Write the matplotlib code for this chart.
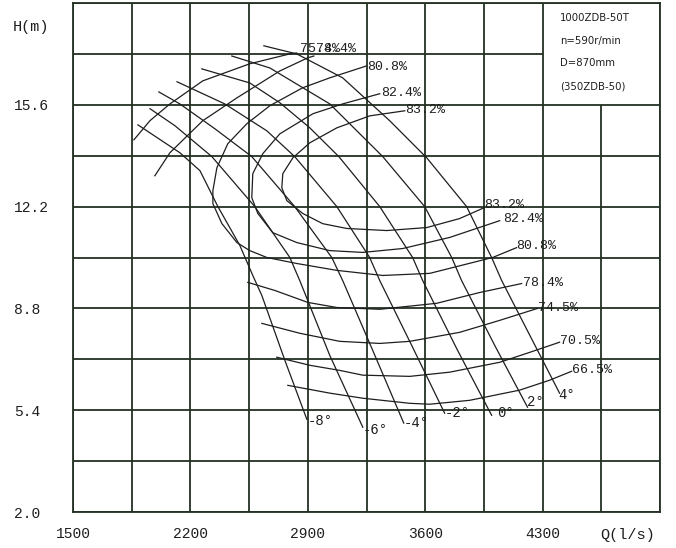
import matplotlib
matplotlib.use('Agg')
import matplotlib.pyplot as plt
import numpy as np

MONO = 'Liberation Mono'
INK = '#1e1e1e'
GRID = '#233023'

# ---------------- data (Q in l/s, H in m) ----------------
# blade-angle H-Q curves
angle_labels = ['-8°', '-6°', '-4°', '-2°', '0°', '2°', '4°']
q_m8 = [1887, 2137, 2257, 2364, 2495, 2572, 2626, 2763, 2894]
h_m8 = [14.93, 14.0, 13.4, 12.2, 10.9, 9.9, 9.23, 7.07, 5.1]
q_m6 = [1959, 2108, 2328, 2584, 2793, 2852, 3031, 3228]
h_m6 = [15.47, 14.9, 13.87, 12.2, 10.5, 9.73, 7.23, 4.83]
q_m4 = [2012, 2137, 2346, 2566, 2822, 3043, 3108, 3287, 3472]
h_m4 = [16.03, 15.63, 14.8, 13.87, 12.2, 10.5, 9.73, 7.4, 4.97]
q_m2 = [2120, 2274, 2405, 2656, 2822, 3073, 3269, 3329, 3519, 3716]
h_m2 = [16.37, 15.97, 15.63, 14.73, 13.87, 12.2, 10.5, 9.73, 7.57, 5.3]
q_0 = [2268, 2554, 2733, 2912, 3085, 3329, 3525, 3585, 3793, 3996]
h_0 = [16.8, 16.33, 15.67, 14.83, 13.87, 12.2, 10.5, 9.73, 7.4, 5.23]
q_p2 = [2447, 2674, 3031, 3347, 3597, 3758, 3817, 4014, 4210]
h_p2 = [17.23, 16.83, 15.63, 13.87, 12.2, 10.5, 9.73, 7.57, 5.5]
q_p4 = [2638, 2834, 3108, 3388, 3609, 3847, 3996, 4056, 4300, 4401]
h_p4 = [17.57, 17.3, 16.5, 15.07, 13.83, 12.2, 10.5, 9.73, 7.07, 5.97]

# iso-efficiency curves
eff_upper_labels = ['75.4%', '78.4%', '80.8%', '82.4%', '83.2%']
q_e754u = [1863, 1959, 2078, 2274, 2554, 2793, 2834]
h_e754u = [14.43, 15.07, 15.63, 16.4, 16.97, 17.3, 17.33]
q_e784u = [1988, 2078, 2274, 2477, 2733, 2900, 2936]
h_e784u = [13.23, 14.0, 15.07, 15.83, 16.73, 17.17, 17.23]

# closed-left loops (upper end -> around -> lower end)
q_e808 = [3251, 3031, 2870, 2674, 2537, 2423, 2358, 2334, 2334, 2388, 2477,
          2554, 2656, 2834, 3073, 3347, 3627, 4002, 4145]
h_e808 = [16.9, 16.5, 16.17, 15.57, 14.97, 14.3, 13.5, 12.73, 12.3, 11.63, 11.0,
          10.73, 10.5, 10.3, 10.07, 9.9, 9.97, 10.5, 10.83]
q_e824 = [3329, 3108, 2930, 2733, 2632, 2572, 2566, 2602, 2691, 2834, 3031,
          3228, 3466, 3746, 4044]
h_e824 = [15.97, 15.63, 15.3, 14.63, 13.97, 13.3, 12.5, 11.97, 11.33, 11.0, 10.73,
          10.67, 10.8, 11.17, 11.73]
q_e832 = [3478, 3269, 3073, 2912, 2811, 2751, 2745, 2775, 2870, 2989, 3132,
          3370, 3609, 3805, 3954]
h_e832 = [15.4, 15.23, 14.83, 14.33, 13.83, 13.3, 12.83, 12.4, 11.97, 11.63, 11.47,
          11.4, 11.5, 11.8, 12.17]

# lower (open) branches
q_e784l = [2542, 2703, 2900, 3073, 3329, 3668, 3924, 4175]
h_e784l = [9.67, 9.4, 9.0, 8.83, 8.77, 8.97, 9.33, 9.63]
q_e745l = [2626, 2852, 3090, 3329, 3508, 3805, 4044, 4270]
h_e745l = [8.3, 7.97, 7.7, 7.63, 7.7, 8.0, 8.4, 8.8]
q_e705l = [2715, 2912, 3090, 3228, 3508, 3746, 4044, 4222, 4401]
h_e705l = [7.17, 6.9, 6.73, 6.57, 6.53, 6.67, 7.0, 7.33, 7.67]
q_e665l = [2781, 3031, 3228, 3508, 3627, 3865, 4163, 4341, 4473]
h_e665l = [6.23, 5.97, 5.8, 5.63, 5.6, 5.73, 6.07, 6.4, 6.7]

x_ticks = [1500, 2200, 2900, 3600, 4300]
y_ticks = [2.0, 5.4, 8.8, 12.2, 15.6]
info_lines = ['1000ZDB-50T', 'n=590r/min', 'D=870mm', '(350ZDB-50)']

# ---------------- figure ----------------
fig = plt.figure(figsize=(6.76, 5.48), dpi=100)
ax = fig.add_axes([73 / 676, 1 - 512 / 548, 587 / 676, 509 / 548])
ax.set_xlim(1500, 5000)
ax.set_ylim(2.0, 19.0)

# grid (the top-right box holds the info text, so lines stop at its edge)
for xg in np.arange(1500, 5001, 350):
    top = 15.6 if abs(xg - 4650) < 1 else 19.0
    ax.vlines(xg, 2.0, top, color=GRID, lw=1.3, zorder=1)
for k in range(11):
    yg = 2.0 + 1.7 * k
    right = 4300 if abs(yg - 17.3) < 1e-6 else 5000
    ax.hlines(yg, 1500, right, color=GRID, lw=1.3, zorder=1)
for s in ax.spines.values():
    s.set_color(GRID)
    s.set_linewidth(1.3)

lw = 0.9
blades = [(q_m8, h_m8), (q_m6, h_m6), (q_m4, h_m4), (q_m2, h_m2),
          (q_0, h_0), (q_p2, h_p2), (q_p4, h_p4)]
blade_off = [(1, -2), (0, -3), (0, 0), (0, 0), (6, 2), (-1, 5), (-1, -2)]
for (q, h), lab, off in zip(blades, angle_labels, blade_off):
    ax.plot(q, h, color=INK, lw=lw, zorder=2)
    ax.annotate(lab, (q[-1], h[-1]), xytext=off, textcoords='offset pixels',
                ha='left', va='center', fontsize=10, family=MONO, color=INK)

upper = [(q_e754u, h_e754u), (q_e784u, h_e784u), (q_e808, h_e808),
         (q_e824, h_e824), (q_e832, h_e832)]
upper_first_is_label = [False, False, True, True, True]
upper_off = [(3, 4), (2, 7), (0, -1), (1, 1), (0, 1)]
for (q, h), lab, first, off in zip(upper, eff_upper_labels,
                                   upper_first_is_label, upper_off):
    ax.plot(q, h, color=INK, lw=lw, zorder=2)
    i = 0 if first else -1
    ax.annotate(lab, (q[i], h[i]), xytext=off, textcoords='offset pixels',
                ha='left', va='center', fontsize=9.5, family=MONO, color=INK)

lower = [(q_e832, h_e832, '83.2%', (0, 2)), (q_e824, h_e824, '82.4%', (3, 2)),
         (q_e808, h_e808, '80.8%', (0, 2)), (q_e784l, h_e784l, '78.4%', (1, 1)),
         (q_e745l, h_e745l, '74.5%', (0, 0)), (q_e705l, h_e705l, '70.5%', (0, 1)),
         (q_e665l, h_e665l, '66.5%', (0, 1))]
for q, h, lab, off in lower:
    if lab in ('78.4%', '74.5%', '70.5%', '66.5%'):
        ax.plot(q, h, color=INK, lw=lw, zorder=2)
    ax.annotate(lab, (q[-1], h[-1]), xytext=off, textcoords='offset pixels',
                ha='left', va='center', fontsize=9.5, family=MONO, color=INK)

# ticks
ax.set_xticks(x_ticks)
ax.set_xticklabels([str(v) for v in x_ticks], family=MONO, fontsize=10.5, color=INK)
ax.set_yticks(y_ticks)
ax.set_yticklabels([f'{v:.1f}' for v in y_ticks], family=MONO, fontsize=10.5,
                   color=INK, ha='left')
ax.tick_params(axis='x', length=0, pad=11)
ax.tick_params(axis='y', length=0, pad=42.5)

fig.text(13 / 676, 1 - 27 / 548, 'H(m)', family=MONO, fontsize=11,
         ha='left', va='center', color=INK)
fig.text(600 / 676, 1 - 535 / 548, 'Q(l/s)', family=MONO, fontsize=11,
         ha='left', va='center', color=INK)

for i, line in enumerate(info_lines):
    fig.text(560 / 676, 1 - (18 + 22.7 * i) / 548, line, family='DejaVu Sans',
             fontsize=7.3, ha='left', va='center', color=INK)

fig.savefig('out.png', dpi=100)
